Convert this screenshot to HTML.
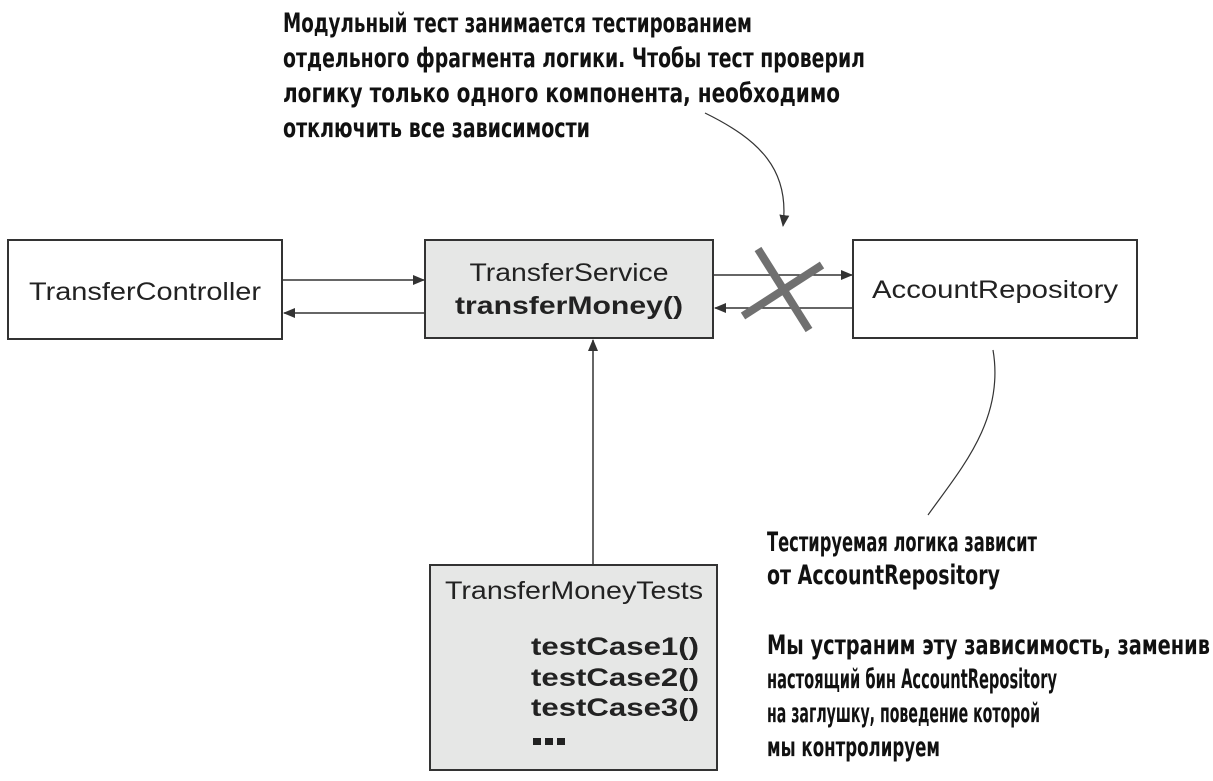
<!DOCTYPE html>
<html><head><meta charset="utf-8"><style>html,body{margin:0;padding:0;background:#fff}svg{display:block}</style></head>
<body>
<svg width="1213" height="781" viewBox="0 0 1213 781" xmlns="http://www.w3.org/2000/svg">
<defs>
<marker id="a" markerWidth="12" markerHeight="10" refX="11" refY="5" orient="auto" markerUnits="userSpaceOnUse">
<path d="M0,0 L12,5 L0,10 z" fill="#333"/></marker>
</defs>
<g font-family="'DejaVu Sans Condensed','Liberation Sans Narrow','Liberation Sans',sans-serif" font-weight="bold" font-size="27" fill="#111">
<text x="283" y="32" textLength="469" lengthAdjust="spacingAndGlyphs">Модульный тест занимается тестированием</text>
<text x="283" y="67" textLength="582" lengthAdjust="spacingAndGlyphs">отдельного фрагмента логики. Чтобы тест проверил</text>
<text x="283" y="102" textLength="557" lengthAdjust="spacingAndGlyphs">логику только одного компонента, необходимо</text>
<text x="283" y="137" textLength="307" lengthAdjust="spacingAndGlyphs">отключить все зависимости</text>
<text x="767" y="551" textLength="270" lengthAdjust="spacingAndGlyphs">Тестируемая логика зависит</text>
<text x="767" y="584" textLength="233" lengthAdjust="spacingAndGlyphs">от AccountRepository</text>
<text x="767" y="654" textLength="443" lengthAdjust="spacingAndGlyphs">Мы устраним эту зависимость, заменив</text>
<text x="767" y="688" textLength="290" lengthAdjust="spacingAndGlyphs">настоящий бин AccountRepository</text>
<text x="767" y="722" textLength="273" lengthAdjust="spacingAndGlyphs">на заглушку, поведение которой</text>
<text x="767" y="756" textLength="173" lengthAdjust="spacingAndGlyphs">мы контролируем</text>
</g>
<g stroke="#333" stroke-width="2">
<rect x="8" y="240" width="274" height="99" fill="#fff"/>
<rect x="425" y="240" width="288" height="98" fill="#e6e7e6"/>
<rect x="853" y="240" width="284" height="98" fill="#fff"/>
<rect x="430" y="565" width="287" height="205" fill="#e6e7e6"/>
</g>
<g stroke="#333" stroke-width="1.5" fill="none">
<line x1="283" y1="280" x2="424" y2="280" marker-end="url(#a)"/>
<line x1="424" y1="313" x2="284" y2="313" marker-end="url(#a)"/>
<line x1="714" y1="275" x2="852" y2="275" marker-end="url(#a)"/>
<line x1="852" y1="308" x2="715" y2="308" marker-end="url(#a)"/>
<line x1="593" y1="564" x2="593" y2="340" marker-end="url(#a)"/>
<path d="M705,113 C760,140 790,170 783,226" marker-end="url(#a)" stroke-width="1.2"/>
<path d="M993,350 C1005,420 960,470 928,515" stroke-width="1.2"/>
</g>
<g stroke="#707070" stroke-width="8">
<line x1="758" y1="249" x2="809" y2="330"/>
<line x1="743" y1="316" x2="822" y2="265"/>
</g>
<g font-family="'Liberation Sans',sans-serif" fill="#222">
<text x="145" y="300" font-size="25" text-anchor="middle" textLength="232" lengthAdjust="spacingAndGlyphs">TransferController</text>
<text x="569" y="281" font-size="25" text-anchor="middle" textLength="199" lengthAdjust="spacingAndGlyphs">TransferService</text>
<text x="569" y="314" font-size="25" font-weight="bold" text-anchor="middle" textLength="228" lengthAdjust="spacingAndGlyphs">transferMoney()</text>
<text x="995" y="298" font-size="25" text-anchor="middle" textLength="246" lengthAdjust="spacingAndGlyphs">AccountRepository</text>
<text x="445" y="599" font-size="25" textLength="258" lengthAdjust="spacingAndGlyphs">TransferMoneyTests</text>
<g font-weight="bold" font-size="25">
<text x="531" y="655" textLength="168" lengthAdjust="spacingAndGlyphs">testCase1()</text>
<text x="531" y="686" textLength="168" lengthAdjust="spacingAndGlyphs">testCase2()</text>
<text x="531" y="716" textLength="168" lengthAdjust="spacingAndGlyphs">testCase3()</text>
</g>
</g>
<g fill="#222"><rect x="533" y="738" width="8" height="7"/><rect x="545" y="738" width="8" height="7"/><rect x="557" y="738" width="8" height="7"/></g>
</svg>
</body></html>
